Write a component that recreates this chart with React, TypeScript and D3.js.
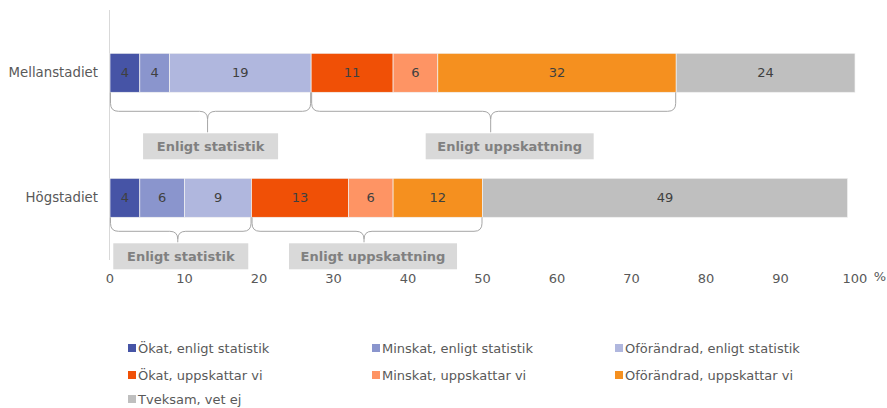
import React from "react";
import * as d3 from "d3";

const categories = ["Mellanstadiet", "Högstadiet"];
const seriesNames = [
  "Ökat, enligt statistik",
  "Minskat, enligt statistik",
  "Oförändrad, enligt statistik",
  "Ökat, uppskattar vi",
  "Minskat, uppskattar vi",
  "Oförändrad, uppskattar vi",
  "Tveksam, vet ej",
];
const seriesColors = ["#4654a6", "#8a95cd", "#b0b7de", "#f05006", "#fe9464", "#f5901f", "#bfbfbf"];
const mellanValues = [4, 4, 19, 11, 6, 32, 24];
const hogValues = [4, 6, 9, 13, 6, 12, 49];
const xTicks = [0, 10, 20, 30, 40, 50, 60, 70, 80, 90, 100];
const groupLabels = ["Enligt statistik", "Enligt uppskattning"];
const groupSeries = [[0, 1, 2], [3, 4, 5]];

const W = 887;
const H = 408;
const FONT = "Verdana, 'DejaVu Sans', sans-serif";
const textColor = "#595959";

export default function App() {
  const rows = [mellanValues, hogValues];
  const x = d3.scaleLinear().domain([0, 100]).range([110, 855]);
  const y = d3.scalePoint().domain(categories).range([72.8, 197.8]);
  const barH = 39;
  const braceDims = [
    { depth: 19, tip: 40, boxOffset: 16 },
    { depth: 14, tip: 25, boxOffset: 6 },
  ];
  const boxW = [135, 168];

  const bracePath = (x1: number, x2: number, xm: number, y0: number, d: number, t: number) => {
    const r = 8;
    const ym = y0 + d;
    return `M${x1},${y0} L${x1},${ym - r} Q${x1},${ym} ${x1 + r},${ym} L${xm - r},${ym} Q${xm},${ym} ${xm},${ym + r} L${xm},${y0 + t}` +
      ` M${xm},${ym + r} Q${xm},${ym} ${xm + r},${ym} L${x2 - r},${ym} Q${x2},${ym} ${x2},${ym - r} L${x2},${y0}`;
  };

  const legendCols = [128, 372, 615];
  const legendRows = [348, 375, 399];

  return (
    <svg width={W} height={H} style={{ position: "absolute", left: 0, top: 0, fontFamily: FONT }}>
      <rect width={W} height={H} fill="#fff" />
      <line x1={109.5} x2={109.5} y1={10} y2={260} stroke="#d9d9d9" strokeWidth={1} />
      {categories.map((cat, ri) => {
        const vals = rows[ri];
        const cy = y(cat) as number;
        const top = cy - barH / 2;
        const bottom = cy + barH / 2;
        const starts = d3.cumsum([0, ...vals]);
        const dims = braceDims[ri];
        return (
          <g key={cat}>
            <text x={98} y={cy} dy="0.35em" textAnchor="end" fontSize={13.3} fill={textColor}>{cat}</text>
            {vals.map((v, i) => {
              const x0 = x(starts[i]);
              const x1 = x(starts[i] + v);
              return (
                <g key={i}>
                  <rect x={x0} y={top} width={x1 - x0} height={barH} fill={seriesColors[i]} stroke="#f2f2f2" strokeWidth={0.7} />
                  <text x={(x0 + x1) / 2} y={cy} dy="0.35em" textAnchor="middle" fontSize={13} fill="#404040">{v}</text>
                </g>
              );
            })}
            {groupSeries.map((idx, gi) => {
              const a = starts[idx[0]];
              const b = starts[idx[idx.length - 1] + 1];
              const xa = x(a);
              const xb = x(b);
              const xm = x((a + b) / 2) - 3;
              const bx = (xa + xb) / 2 + (gi === 1 ? dims.boxOffset : 0);
              const by = bottom + dims.tip + 1;
              return (
                <g key={gi}>
                  <path d={bracePath(xa + 0.5, xb - 0.5, xm, bottom, dims.depth, dims.tip)} fill="none" stroke="#a6a6a6" strokeWidth={1} />
                  <rect x={bx - boxW[gi] / 2} y={by} width={boxW[gi]} height={26} fill="#d9d9d9" />
                  <text x={bx} y={by + 13} dy="0.35em" textAnchor="middle" fontSize={13} fontWeight="bold" fill="#808080">{groupLabels[gi]}</text>
                </g>
              );
            })}
          </g>
        );
      })}
      {xTicks.map((t) => (
        <text key={t} x={x(t)} y={278} dy="0.35em" textAnchor="middle" fontSize={13} fill={textColor}>{t}</text>
      ))}
      <text x={880} y={276} dy="0.35em" textAnchor="middle" fontSize={13} fill={textColor}>%</text>
      {seriesNames.map((name, i) => {
        const lx = legendCols[i % 3];
        const ly = legendRows[Math.floor(i / 3)];
        return (
          <g key={name}>
            <rect x={lx} y={ly - 4} width={8} height={8} fill={seriesColors[i]} />
            <text x={lx + 10} y={ly} dy="0.35em" fontSize={13} fill={textColor}>{name}</text>
          </g>
        );
      })}
    </svg>
  );
}
